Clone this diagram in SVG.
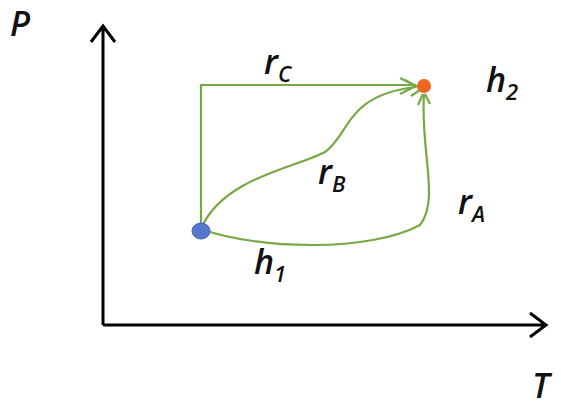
<svg xmlns="http://www.w3.org/2000/svg" width="561" height="411" viewBox="0 0 561 411">
<style>
.ax{stroke:#000;stroke-width:3;fill:none}
.g{stroke:#78a845;stroke-width:2.2;fill:none}
.t{font-family:"Open Sans","Liberation Sans",sans-serif;font-style:italic;font-weight:600;fill:#111}
.big{font-size:34px}
.sub{font-size:22px}
</style>
<rect width="561" height="411" fill="#fff"/>
<g id="axes">
<path class="ax" d="M103,325 V26 M91,42 L103,26 L115,42"/>
<path class="ax" d="M103,325 H546 M530,313 L546,325 L530,337"/>
<text class="t big" x="10" y="36">P</text>
<text class="t big" x="532" y="398">T</text>
</g>
<g id="connectors">
<path class="g" d="M201,229 V85 H416"/>
<path class="g" d="M201,229 C222,178 295,168 325,152 C350,135 345,95 416,87"/>
<path class="g" d="M201,229 C260,250 370,252 420,225 C440,200 420,150 424,94"/>
<path class="g" d="M400,78 L416,86 L400,94 M405,80 L418,87 M411,96 L420,90 M418,105 L423,94 M430,104 L425,94"/>
</g>
<g id="labels">
<text class="t big" x="264" y="74">r<tspan class="sub" dy="8">C</tspan></text>
<text class="t big" x="318" y="184">r<tspan class="sub" dy="8">B</tspan></text>
<text class="t big" x="458" y="214">r<tspan class="sub" dy="8">A</tspan></text>
<text class="t big" x="254" y="274">h<tspan class="sub" dy="8">1</tspan></text>
<text class="t big" x="486" y="92">h<tspan class="sub" dy="8">2</tspan></text>
</g>
<g id="h1"><ellipse cx="201" cy="231" rx="9" ry="8" fill="#5577cc" stroke="#4466bb"/></g>
<g id="h2"><circle cx="424" cy="86" r="7" fill="#ee6622"/></g>
</svg>
